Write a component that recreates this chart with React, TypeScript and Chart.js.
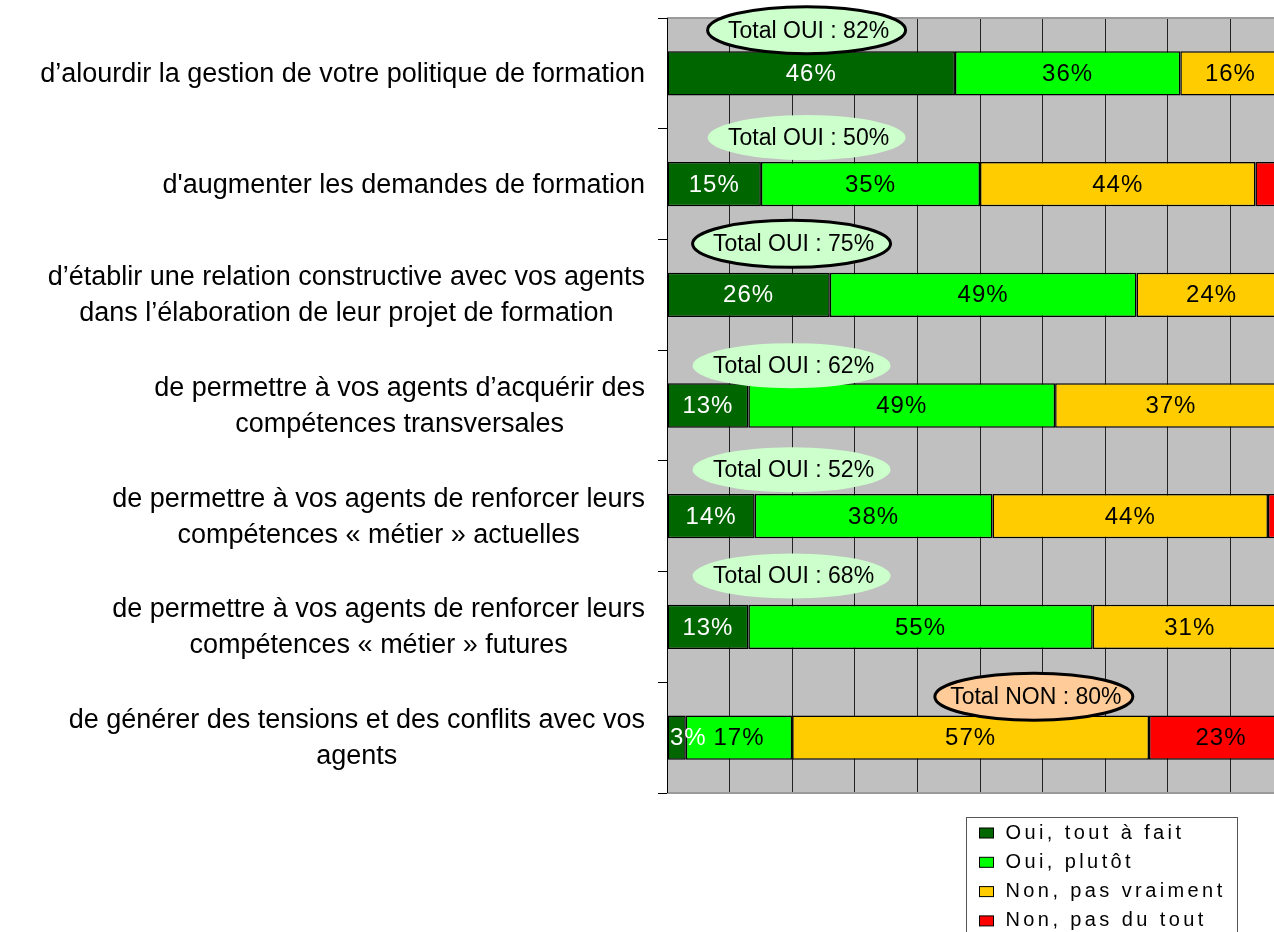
import { useEffect, useRef } from "react";
import { Chart, registerables } from "chart.js";

Chart.register(...registerables);

// ---- Data ----
const categories: string[][] = [
  ["d’alourdir la gestion de votre politique de formation"],
  ["d'augmenter les demandes de formation"],
  ["d’établir une relation constructive avec vos agents", "dans l’élaboration de leur projet de formation"],
  ["de permettre à vos agents d’acquérir des", "compétences transversales"],
  ["de permettre à vos agents de renforcer leurs", "compétences « métier » actuelles"],
  ["de permettre à vos agents de renforcer leurs", "compétences « métier » futures"],
  ["de générer des tensions et des conflits avec vos", "agents"],
];

const seriesLabels = ["Oui, tout à fait", "Oui, plutôt", "Non, pas vraiment", "Non, pas du tout"];
const ouiToutAFait = [46, 15, 26, 13, 14, 13, 3];
const ouiPlutot = [36, 35, 49, 49, 38, 55, 17];
const nonPasVraiment = [16, 44, 24, 37, 44, 31, 57];
const nonPasDuTout = [2, 6, 1, 1, 4, 1, 23];

// ---- Styles / annotation layout ----
const seriesColors = ["#006600", "#00FF00", "#FFCC00", "#FF0000"];
const labelColors = ["#FFFFFF", "#000000", "#000000", "#000000"];
const minLabelValue = [3, 3, 3, 10];
const totalBoxX = [22.3, 22.3, 19.9, 19.9, 19.9, 19.9, 58.6];
const totalBoxDy = [-0.39, -0.42, -0.46, -0.36, -0.42, -0.46, -0.37];
const totalBoxOutlined = [true, false, true, false, false, false, true];

const FONT = '"Liberation Sans", Arial, Helvetica, sans-serif';

const backgroundPlugin = {
  id: "plotBackground",
  beforeDraw(chart: any) {
    const { ctx, chartArea } = chart;
    const { left, top, right, bottom } = chartArea;
    ctx.save();
    ctx.fillStyle = "#C0C0C0";
    ctx.fillRect(left, top, right - left, bottom - top);
    ctx.restore();
  },
  beforeDatasetsDraw(chart: any) {
    const { ctx, chartArea } = chart;
    const { left, top, right, bottom } = chartArea;
    ctx.save();
    ctx.strokeStyle = "#9a9a9a";
    ctx.lineWidth = 2;
    ctx.beginPath();
    ctx.moveTo(left, top);
    ctx.lineTo(right, top);
    ctx.moveTo(left, bottom);
    ctx.lineTo(right, bottom);
    ctx.stroke();
    ctx.strokeStyle = "#000";
    ctx.lineWidth = 1;
    ctx.beginPath();
    ctx.moveTo(left + 0.5, top);
    ctx.lineTo(left + 0.5, bottom);
    ctx.stroke();
    ctx.restore();
  },
};

const barLabelPlugin = {
  id: "barLabels",
  afterDatasetsDraw(chart: any) {
    const { ctx, chartArea } = chart;
    ctx.save();
    ctx.font = `24px ${FONT}`;
    (ctx as any).letterSpacing = "1px";
    ctx.textAlign = "center";
    ctx.textBaseline = "middle";
    chart.data.datasets.forEach((ds: any, di: number) => {
      const meta = chart.getDatasetMeta(di);
      meta.data.forEach((bar: any, i: number) => {
        const v = ds.data[i];
        if (v < minLabelValue[di]) return;
        const txt = `${v}%`;
        const w = ctx.measureText(txt).width;
        let cx = (bar.x + bar.base) / 2;
        cx = Math.max(cx, chartArea.left + 3 + w / 2);
        ctx.fillStyle = labelColors[di];
        ctx.fillText(txt, cx, bar.y + 1);
      });
    });
    ctx.restore();
  },
};

const totalsPlugin = {
  id: "totals",
  afterDatasetsDraw(chart: any) {
    const { ctx } = chart;
    const xs = chart.scales.x;
    const ys = chart.scales.y;
    ctx.save();
    categories.forEach((_, i) => {
      const oui = ouiToutAFait[i] + ouiPlutot[i];
      const non = nonPasVraiment[i] + nonPasDuTout[i];
      const isNon = non > oui;
      const text = isNon ? `Total NON : ${non}%` : `Total OUI : ${oui}%`;
      const cx = xs.getPixelForValue(totalBoxX[i]);
      const cy = ys.getPixelForValue(i + totalBoxDy[i]);
      const outlined = totalBoxOutlined[i];
      const rx = 99;
      const ry = outlined ? 23.5 : 22.5;
      ctx.beginPath();
      ctx.ellipse(cx, cy, rx, ry, 0, 0, Math.PI * 2);
      ctx.fillStyle = isNon ? "#FFCC99" : "#CCFFCC";
      ctx.fill();
      if (outlined) {
        ctx.lineWidth = 3;
        ctx.strokeStyle = "#000";
        ctx.stroke();
      }
      ctx.font = `23px ${FONT}`;
      ctx.fillStyle = "#000";
      ctx.textAlign = "center";
      ctx.textBaseline = "middle";
      ctx.fillText(text, cx + 2, cy + 1);
    });
    ctx.restore();
  },
};

const categoryLabelPlugin = {
  id: "categoryLabels",
  afterDraw(chart: any) {
    const { ctx, chartArea } = chart;
    const ys = chart.scales.y;
    ctx.save();
    ctx.font = `27px ${FONT}`;
    ctx.fillStyle = "#000";
    ctx.textAlign = "center";
    ctx.textBaseline = "middle";
    categories.forEach((lines, i) => {
      const y = ys.getPixelForValue(i);
      const widths = lines.map((l) => ctx.measureText(l).width);
      const blockW = Math.max(...widths);
      const right = chartArea.left - 22;
      const cx = right - blockW / 2;
      lines.forEach((l, j) => {
        const ly = y + 1 + (j - (lines.length - 1) / 2) * 36;
        ctx.fillText(l, cx, ly);
      });
    });
    ctx.restore();
  },
};

const legendPlugin = {
  id: "boxLegend",
  afterDraw(chart: any) {
    const { ctx, chartArea } = chart;
    const bx = chartArea.left + 299.5;
    const by = chartArea.bottom + 24.5;
    const bw = 271;
    const bh = 140;
    ctx.save();
    ctx.strokeStyle = "#555";
    ctx.lineWidth = 1;
    ctx.fillStyle = "#fff";
    ctx.fillRect(bx, by, bw, bh);
    ctx.strokeRect(bx, by, bw, bh);
    ctx.font = `20px ${FONT}`;
    (ctx as any).letterSpacing = "3.4px";
    ctx.textAlign = "left";
    ctx.textBaseline = "middle";
    seriesLabels.forEach((lab, i) => {
      const cy = by + 15.5 + i * 29.3;
      ctx.fillStyle = seriesColors[i];
      ctx.fillRect(bx + 13, cy - 5, 14, 10);
      ctx.strokeStyle = "#000";
      ctx.strokeRect(bx + 13, cy - 5, 14, 10);
      ctx.fillStyle = "#000";
      ctx.fillText(lab, bx + 39, cy);
    });
    ctx.restore();
  },
};

export default function App() {
  const canvasRef = useRef<HTMLCanvasElement | null>(null);

  useEffect(() => {
    if (!canvasRef.current) return;
    const seriesData = [ouiToutAFait, ouiPlutot, nonPasVraiment, nonPasDuTout];
    const chart = new Chart(canvasRef.current, {
      type: "bar",
      data: {
        labels: categories.map((l) => l.join(" ")),
        datasets: seriesData.map((d, i) => ({
          label: seriesLabels[i],
          data: d,
          backgroundColor: seriesColors[i],
          borderColor: "#000",
          borderWidth: 1.5,
          borderSkipped: false,
          barPercentage: 0.8,
          categoryPercentage: 0.5,
        })),
      },
      options: {
        indexAxis: "y",
        responsive: false,
        animation: false,
        layout: { padding: { top: 18, right: 7, bottom: 139, left: 0 } },
        plugins: {
          legend: { display: false },
          tooltip: { enabled: false },
        },
        scales: {
          x: {
            stacked: true,
            min: 0,
            max: 100,
            ticks: { display: false, stepSize: 10 },
            grid: { color: "#222", lineWidth: 1, drawTicks: false },
            border: { display: false },
            afterFit: (s: any) => {
              s.height = 0;
            },
          },
          y: {
            stacked: true,
            offset: true,
            ticks: { display: false },
            grid: {
              offset: true,
              drawOnChartArea: false,
              drawTicks: true,
              tickLength: 9,
              color: "#000",
            },
            border: { display: true, color: "#000", width: 1 },
            afterFit: (s: any) => {
              s.width = 667;
            },
          },
        },
      },
      plugins: [backgroundPlugin, barLabelPlugin, totalsPlugin, categoryLabelPlugin, legendPlugin],
    } as any);
    return () => chart.destroy();
  }, []);

  return (
    <div
      style={{
        position: "absolute",
        left: 0,
        top: 0,
        width: 1274,
        height: 932,
        overflow: "hidden",
        background: "#fff",
      }}
    >
      <canvas ref={canvasRef} width={1300} height={932} style={{ display: "block" }} />
    </div>
  );
}
